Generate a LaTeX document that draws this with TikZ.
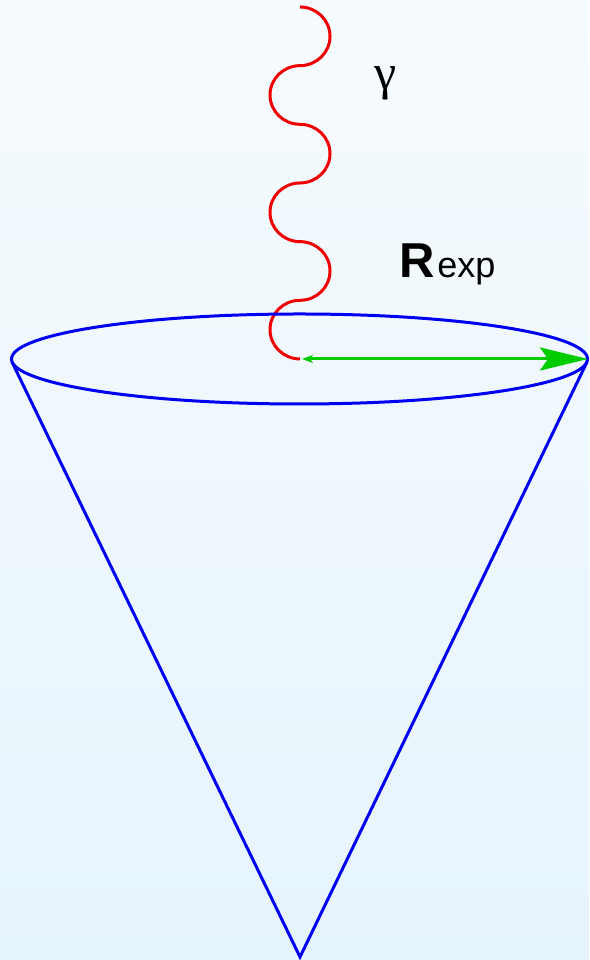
\documentclass[tikz,border=0pt]{standalone}
\usepackage{fontspec}
\setmainfont{Liberation Serif}
\newfontfamily\arialfont{Liberation Sans}
\usetikzlibrary{arrows.meta}
\definecolor{bgtop}{RGB}{246,251,254}
\definecolor{bgbot}{RGB}{230,244,252}
\definecolor{conecol}{RGB}{0,0,240}
\definecolor{photon}{RGB}{240,0,0}
\definecolor{radius}{RGB}{0,204,0}
\tikzset{
  conestroke/.style={draw=conecol, line width=3pt},
  photonstroke/.style={draw=photon, line width=3pt},
  radiusarrow/.style={draw=radius, line width=3pt,
    {Stealth[length=11pt,width=8pt,inset=3pt]}-{Stealth[length=48pt,width=23pt,inset=8pt]}},
  lbl/.style={inner sep=0pt, outer sep=0pt}
}
\begin{document}
\begin{tikzpicture}[x=1pt,y=1pt]
\shade[top color=bgtop, bottom color=bgbot] (0,0) rectangle (589,960);
\useasboundingbox (0,0) rectangle (589,960);
% photon wave
\coordinate (wtop) at (300,953);
\draw[photonstroke] (wtop)
  arc[start angle=90, end angle=-90, x radius=30, y radius=29.33]
  arc[start angle=90, end angle=270, x radius=30, y radius=29.33]
  arc[start angle=90, end angle=-90, x radius=30, y radius=29.33]
  arc[start angle=90, end angle=270, x radius=30, y radius=29.33]
  arc[start angle=90, end angle=-90, x radius=30, y radius=29.33]
  arc[start angle=90, end angle=270, x radius=30, y radius=29.33]
  coordinate (wend);
% cone
\coordinate (apex) at (300,3);
\coordinate (cleft) at (12,598);
\coordinate (cright) at (587,598);
\coordinate (ecent) at (299.5,601);
\draw[conestroke] (cleft) -- (apex) -- (cright);
\draw[conestroke] (ecent) ellipse[x radius=288, y radius=45];
% radius arrow
\coordinate (rstart) at (302,601);
\coordinate (rend) at (588,601);
\draw[radiusarrow] (rstart) -- (rend);
% labels
\node[lbl] (gamma) at (386,877) {\fontsize{50}{60}\selectfont γ};
\node[lbl, anchor=base west] (rexp) at (399,682)
  {\arialfont\fontsize{49}{58}\selectfont\bfseries R\kern3pt\fontsize{36}{44}\selectfont\mdseries exp};
\end{tikzpicture}
\end{document}
